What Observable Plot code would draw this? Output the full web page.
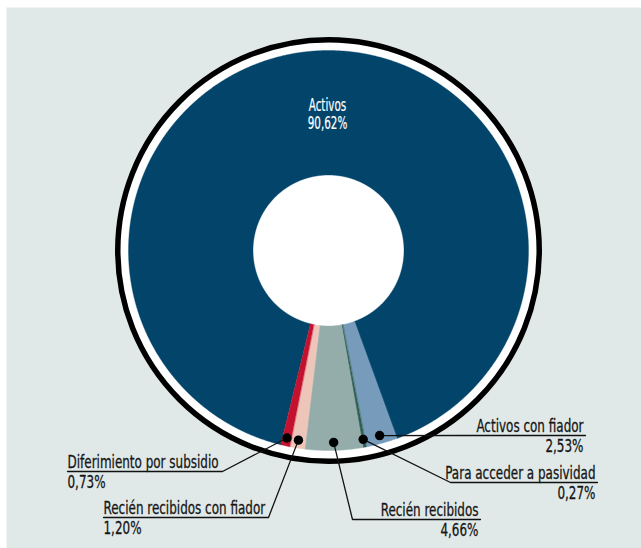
<!DOCTYPE html>
<html><head><meta charset="utf-8">
<script src="https://cdn.jsdelivr.net/npm/d3@7"></script>
<script src="https://cdn.jsdelivr.net/npm/@observablehq/plot@0.6"></script>
<style>body{margin:0;background:#fff} #chart svg{display:block}</style>
</head><body><div id="chart"></div>
<script>
// ---- data ----
const categories = ["Activos", "Activos con fiador", "Para acceder a pasividad", "Recién recibidos", "Recién recibidos con fiador", "Diferimiento por subsidio"];
const values = [90.62, 2.53, 0.27, 4.66, 1.20, 0.73];
const valueLabels = ["90,62%", "2,53%", "0,27%", "4,66%", "1,20%", "0,73%"];
const colors = ["#02446a", "#779cbb", "#2d5e52", "#94adab", "#eec5b9", "#c3112f"];

// ---- layout (page pixels) ----
const W = 641, H = 548, CX = 328, CY = 250;
const R_OUT = 200, R_IN = 75.5, R_WHITE = 208, R_RING = 210.75, R_DOT = 192;
const START = -166.2 * Math.PI / 180;
const FONT = "'DejaVu Sans Condensed', 'DejaVu Sans', sans-serif";
const LABEL_SIZE = 18, SQUEEZE = 0.74, CENTRE_SIZE = 17, SQUEEZE_CENTRE = 0.68;
// callouts: underline at page y from elbow (where leader joins) to end
const callouts = [
  null,
  {elbow: 463, end: 585, y: 435, anchor: "end"},
  {elbow: 450, end: 597, y: 482, anchor: "end"},
  {elbow: 352, end: 480, y: 519, anchor: "end"},
  {elbow: 268, end: 103, y: 517, anchor: "start"},
  {elbow: 222, end: 67, y: 471, anchor: "start"}
];
const px = (x) => x - CX, py = (y) => CY - y;

// ---- derived geometry through d3.pie ----
const arcs = d3.pie().sort(null).value((d) => d).startAngle(START).endAngle(START + 2 * Math.PI)(values);
const polar = (r, a) => ({x: r * Math.sin(a), y: r * Math.cos(a)});
const slicePts = [];
arcs.forEach((a, i) => {
  const n = Math.max(2, Math.ceil((a.endAngle - a.startAngle) / (0.25 * Math.PI / 180)));
  for (let k = 0; k <= n; k++) slicePts.push({name: categories[i], ...polar(R_OUT, a.startAngle + (a.endAngle - a.startAngle) * k / n)});
  for (let k = n; k >= 0; k--) slicePts.push({name: categories[i], ...polar(R_IN, a.startAngle + (a.endAngle - a.startAngle) * k / n)});
});
const dots = [], leaders = [], labels = [], pcts = [];
arcs.forEach((a, i) => {
  const c = callouts[i];
  if (!c) return;
  const p = polar(R_DOT, (a.startAngle + a.endAngle) / 2);
  dots.push({name: categories[i], ...p});
  leaders.push({name: categories[i], ...p});
  leaders.push({name: categories[i], x: px(c.elbow), y: py(c.y)});
  leaders.push({name: categories[i], x: px(c.end), y: py(c.y)});
  const tx = c.anchor === "end" ? Math.max(c.elbow, c.end) - 2 : Math.min(c.elbow, c.end);
  labels.push({text: categories[i], x: px(tx), y: py(c.y - 4), anchor: c.anchor});
  pcts.push({text: valueLabels[i], x: px(tx), y: py(c.y + 16), anchor: c.anchor});
});
const centre = [{x: 0, y: 0}];
const mainLabel = [
  {text: categories[0], x: px(327), y: py(110)},
  {text: valueLabels[0], x: px(327), y: py(128)}
];

const textOpts = (anchor) => ({x: "x", y: "y", text: "text", textAnchor: anchor, lineAnchor: "bottom", fontSize: LABEL_SIZE, fill: "#151515", stroke: "#151515", strokeWidth: 0.3});

const chart = Plot.plot({
  width: W, height: H,
  margin: 0,
  x: {domain: [-CX, W - CX], axis: null},
  y: {domain: [CY - H, CY], axis: null},
  color: {domain: categories, range: colors},
  style: {fontFamily: FONT, background: "transparent"},
  marks: [
    Plot.frame({fill: "#e1e9e8", stroke: "none", insetLeft: 6, insetTop: 7}),
    Plot.dot(centre, {x: "x", y: "y", r: R_WHITE, fill: "white", stroke: "none"}),
    Plot.line(slicePts, {x: "x", y: "y", z: "name", fill: "name", stroke: "name", strokeWidth: 0.4, curve: "linear-closed"}),
    Plot.dot(centre, {x: "x", y: "y", r: R_RING, fill: "none", stroke: "black", strokeWidth: 5.5}),
    Plot.line(leaders, {x: "x", y: "y", z: "name", stroke: "#111", strokeWidth: 1.3}),
    Plot.dot(dots, {x: "x", y: "y", r: 4.7, fill: "black", stroke: "none"}),
    Plot.text(labels.filter(d => d.anchor === "start"), textOpts("start")),
    Plot.text(labels.filter(d => d.anchor === "end"), textOpts("end")),
    Plot.text(pcts.filter(d => d.anchor === "start"), textOpts("start")),
    Plot.text(pcts.filter(d => d.anchor === "end"), textOpts("end")),
    Plot.text(mainLabel, {x: "x", y: "y", text: "text", textAnchor: "middle", lineAnchor: "bottom", fontSize: CENTRE_SIZE, fill: "white", stroke: "white", strokeWidth: 0.2, className: "centre-label"})
  ]
});
// horizontally condense text around its anchor point
chart.querySelectorAll("text").forEach((t) => {
  const s = t.closest(".centre-label") ? SQUEEZE_CENTRE : SQUEEZE;
  const tr = t.getAttribute("transform");
  if (tr) t.setAttribute("transform", tr + ` scale(${s},1)`);
  else {
    const x = +t.getAttribute("x") || 0, y = +t.getAttribute("y") || 0;
    t.setAttribute("transform", `translate(${x},${y}) scale(${s},1) translate(${-x},${-y})`);
  }
});
document.getElementById("chart").append(chart);
</script>
</body></html>
